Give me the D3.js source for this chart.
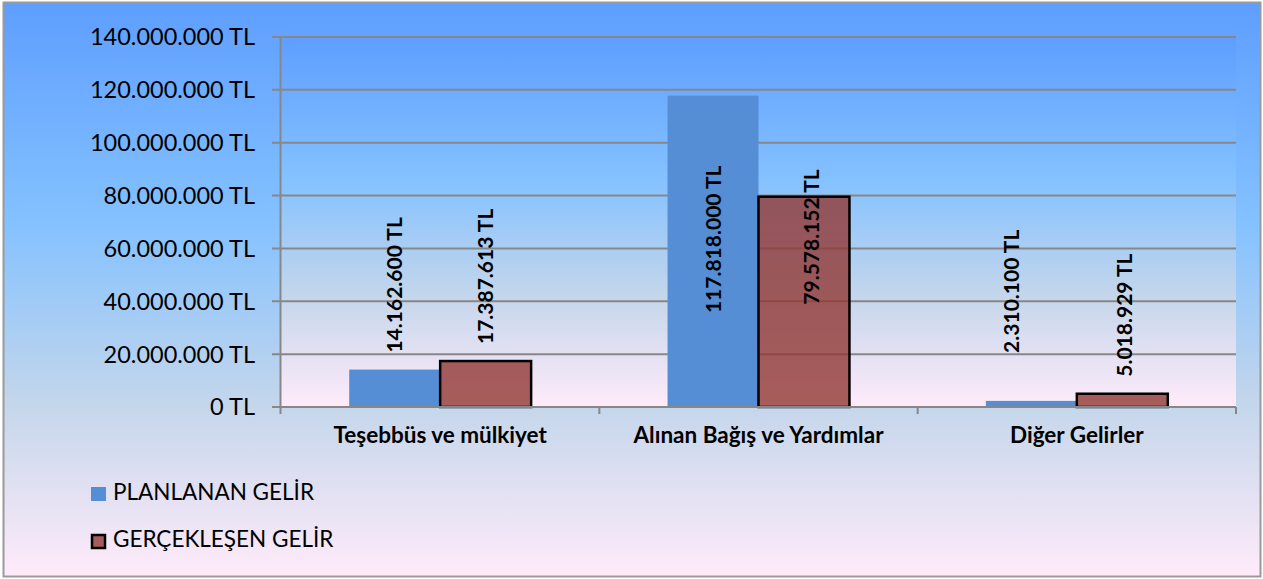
<!DOCTYPE html>
<html>
<head>
<meta charset="utf-8">
<script src="https://cdn.jsdelivr.net/npm/d3@7"></script>
<style>
  html, body { margin: 0; padding: 0; background: #fff; }
  svg { display: block; }
  text { font-family: Lato, "Open Sans", sans-serif; fill: #000; }
</style>
</head>
<body>
<div id="chart"></div>
<script>
// ---------- Data ----------
const categories = ['Teşebbüs ve mülkiyet', 'Alınan Bağış ve Yardımlar', 'Diğer Gelirler'];
const seriesNames = ['PLANLANAN GELİR', 'GERÇEKLEŞEN GELİR'];
const planned = [14162600, 117818000, 2310100];
const actual = [17387613, 79578152, 5018929];
const yTicks = [0, 20000000, 40000000, 60000000, 80000000, 100000000, 120000000, 140000000];

// hand-placed label nudges (px), as in the original sheet
const labelShift = {
    'PLANLANAN GELİR': [[0, 0], [0, 0], [-20, -31]],
    'GERÇEKLEŞEN GELİR': [[0, 0], [7, 125], [2, 0]]
};

const W = 1263, H = 579;
const plot = { left: 281, right: 1236, top: 37, bottom: 407 };

const fmt = v => d3.format(',')(v).replace(/,/g, '.') + ' TL';

const svg = d3.select('#chart').append('svg')
    .attr('width', W)
    .attr('height', H);

// ---------- Background gradient ----------
const defs = svg.append('defs');
function addGradient(id) {
    const gr = defs.append('linearGradient')
        .attr('id', id)
        .attr('x1', 0).attr('y1', 0).attr('x2', 0).attr('y2', 1);
    [[0, '#5e9eff'], [0.39, '#85c2ff'], [0.7, '#c4d6eb'], [1, '#ffebfa']].forEach(([o, c]) =>
        gr.append('stop').attr('offset', o).attr('stop-color', c));
}
addGradient('bgGrad');
addGradient('plotGrad');

svg.append('rect')
    .attr('x', 3.5).attr('y', 2.5)
    .attr('width', 1257).attr('height', 574)
    .attr('fill', 'url(#bgGrad)')
    .attr('stroke', '#9a9a9a')
    .attr('stroke-width', 2);

svg.append('rect')
    .attr('x', plot.left).attr('y', plot.top)
    .attr('width', plot.right - plot.left).attr('height', plot.bottom - plot.top)
    .attr('fill', 'url(#plotGrad)');

// ---------- Scales ----------
const y = d3.scaleLinear()
    .domain([0, 140000000])
    .range([plot.bottom, plot.top]);

const x0 = d3.scaleBand()
    .domain(categories)
    .range([plot.left, plot.right])
    .padding(0);

const x1 = d3.scaleBand()
    .domain(seriesNames)
    .range([0, x0.bandwidth()])
    .paddingInner(0)
    .paddingOuter(0.75);

// ---------- Grid + axes ----------
svg.append('g').selectAll('line')
    .data(yTicks)
    .join('line')
    .attr('x1', plot.left - 9)
    .attr('x2', plot.right)
    .attr('y1', d => y(d))
    .attr('y2', d => y(d))
    .attr('stroke', '#878787')
    .attr('stroke-width', 2);

svg.append('g').selectAll('text')
    .data(yTicks)
    .join('text')
    .attr('x', 255)
    .attr('y', d => y(d))
    .attr('dy', '0.36em')
    .attr('text-anchor', 'end')
    .style('font-size', '23.5px')
    .text(fmt);

svg.append('line')
    .attr('x1', plot.left - 0.5).attr('x2', plot.left - 0.5)
    .attr('y1', plot.top).attr('y2', plot.bottom + 7)
    .attr('stroke', '#878787').attr('stroke-width', 2);

// ---------- Bars ----------
const rows = categories.map((c, i) => ({ cat: c, i, values: [planned[i], actual[i]] }));
const cells = d => seriesNames.map((s, k) => ({ s, k, v: d.values[k], i: d.i }));

const groups = svg.append('g').selectAll('g')
    .data(rows)
    .join('g')
    .attr('transform', d => `translate(${x0(d.cat)},0)`);

groups.selectAll('rect')
    .data(cells)
    .join('rect')
    .attr('x', d => x1(d.s))
    .attr('y', d => y(d.v))
    .attr('width', x1.bandwidth())
    .attr('height', d => y(0) - y(d.v))
    .attr('fill', d => d.k === 0 ? '#558ed5' : '#923834')
    .attr('fill-opacity', d => d.k === 0 ? 1 : 0.8)
    .attr('stroke', d => d.k === 0 ? 'none' : '#000')
    .attr('stroke-width', 2.5);

// x axis line + category ticks
svg.append('line')
    .attr('x1', plot.left - 9).attr('x2', plot.right)
    .attr('y1', plot.bottom).attr('y2', plot.bottom)
    .attr('stroke', '#878787').attr('stroke-width', 2);

svg.append('g').selectAll('line')
    .data(categories)
    .join('line')
    .attr('x1', d => x0(d) + x0.bandwidth())
    .attr('x2', d => x0(d) + x0.bandwidth())
    .attr('y1', plot.bottom)
    .attr('y2', plot.bottom + 7)
    .attr('stroke', '#878787').attr('stroke-width', 2);

svg.append('g').selectAll('text')
    .data(categories)
    .join('text')
    .attr('x', d => x0(d) + x0.bandwidth() / 2)
    .attr('y', 443)
    .attr('text-anchor', 'middle')
    .style('font-size', '22.5px')
    .style('font-weight', 'bold')
    .text(d => d);

// ---------- Data labels ----------
groups.selectAll('text')
    .data(cells)
    .join('text')
    .attr('dy', '0.36em')
    .attr('text-anchor', d => d.v > 100000000 ? 'middle' : 'start')
    .attr('transform', d => {
        const [dx, dy] = labelShift[d.s][d.i];
        const cx = x1(d.s) + x1.bandwidth() / 2 + dx;
        // values too tall to fit above go inside the bar
        const by = d.v > 100000000 ? (y(d.v) + y(0)) / 2 - 12 : y(d.v) - 17 + dy;
        return `translate(${cx},${by}) rotate(-90)`;
    })
    .style('font-size', '21px')
    .style('font-weight', 'bold')
    .text(d => fmt(d.v));

// ---------- Legend ----------
const legend = svg.append('g').selectAll('g')
    .data(seriesNames)
    .join('g')
    .attr('transform', (d, k) => `translate(91,${487 + k * 47})`);

legend.append('rect')
    .attr('x', (d, k) => k === 0 ? 0 : 1)
    .attr('y', (d, k) => k === 0 ? 0 : 1)
    .attr('width', (d, k) => k === 0 ? 15 : 13)
    .attr('height', (d, k) => k === 0 ? 14 : 13)
    .attr('fill', (d, k) => k === 0 ? '#558ed5' : '#a65c5c')
    .attr('stroke', (d, k) => k === 0 ? 'none' : '#000')
    .attr('stroke-width', 2.5);

legend.append('text')
    .attr('x', 22)
    .attr('y', 13)
    .style('font-size', '22.5px')
    .text(d => d);
</script>
</body>
</html>
